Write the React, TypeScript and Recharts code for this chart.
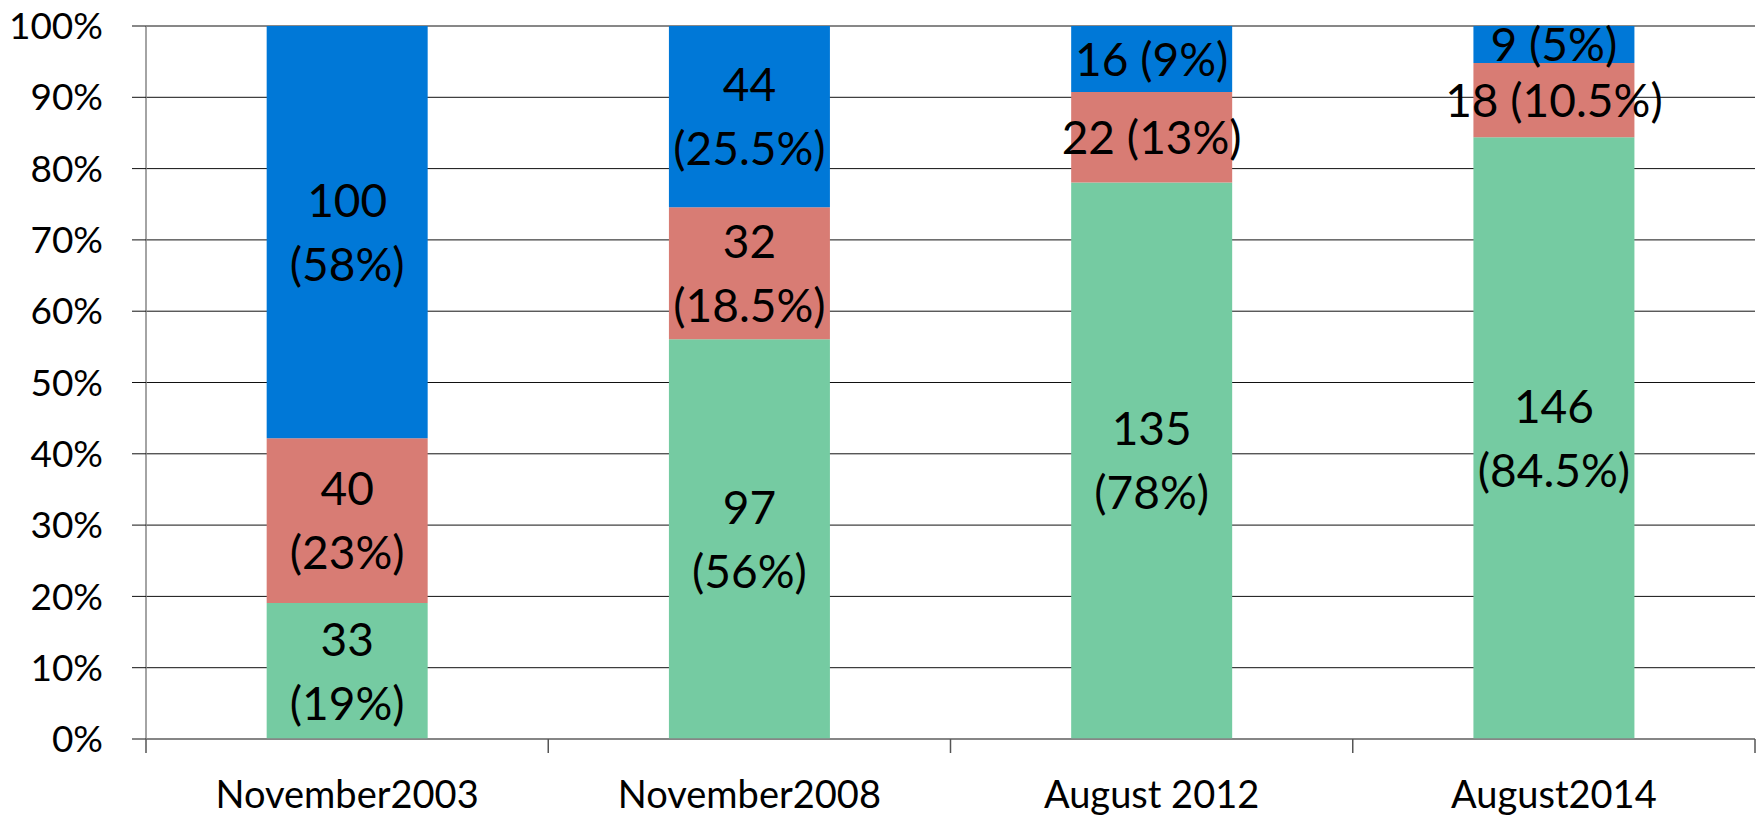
import { Bar, BarChart, CartesianGrid, LabelList, XAxis, YAxis } from 'recharts'

const PERIODS = ['November2003', 'November2008', 'August 2012', 'August2014']
const GREEN = [33, 97, 135, 146]
const RED = [40, 32, 22, 18]
const BLUE = [100, 44, 16, 9]
const GREEN_PCT = ['19%', '56%', '78%', '84.5%']
const RED_PCT = ['23%', '18.5%', '13%', '10.5%']
const BLUE_PCT = ['58%', '25.5%', '9%', '5%']
const Y_TICKS = [0, 0.1, 0.2, 0.3, 0.4, 0.5, 0.6, 0.7, 0.8, 0.9, 1]

const FONT = 'Lato, "Open Sans", sans-serif'

const data = PERIODS.map((period, i) => ({
  period,
  green: GREEN[i],
  red: RED[i],
  blue: BLUE[i],
}))

// Excel style: value + (share), split on two lines when the segment is tall enough
const makeLabel = (values: number[], pcts: string[]) => (props: any) => {
  const { x, y, width, height, index } = props
  const cx = Number(x) + Number(width) / 2
  const cy = Number(y) + Number(height) / 2
  const fs = 46
  const pct = pcts[index]
  if (parseFloat(pct) >= 15) {
    return (
      <g>
        <text x={cx} y={cy - 32} dy="0.36em" textAnchor="middle" fontSize={fs} fill="#000" fontFamily={FONT}>
          {values[index]}
        </text>
        <text x={cx} y={cy + 32} dy="0.36em" textAnchor="middle" fontSize={fs} fill="#000" fontFamily={FONT}>
          ({pct})
        </text>
      </g>
    )
  }
  return (
    <text x={cx} y={cy} dy="0.36em" textAnchor="middle" fontSize={fs} fill="#000" fontFamily={FONT}>
      {values[index]} ({pct})
    </text>
  )
}

// category label at band centre, tick marks on the band edges (Excel look)
function PeriodTick(props: any) {
  const { x, y, payload, index, width } = props
  const band = Number(width) / PERIODS.length
  const left = x - band / 2
  const right = x + band / 2
  return (
    <g>
      <line x1={left} x2={left} y1={y - 42} y2={y - 28} stroke="#555" strokeWidth={1.5} />
      {index === PERIODS.length - 1 && (
        <line x1={right} x2={right} y1={y - 42} y2={y - 28} stroke="#555" strokeWidth={1.5} />
      )}
      <text x={x} y={y} dy="0.71em" textAnchor="middle" fontSize={38} fill="#000" fontFamily={FONT}>
        {payload.value}
      </text>
    </g>
  )
}

export default function App() {
  return (
    <div style={{ position: 'absolute', left: 0, top: 0, fontFamily: FONT }}>
      <BarChart
        width={1756}
        height={815}
        data={data}
        stackOffset="expand"
        barCategoryGap="30%"
        margin={{ top: 26, right: 1, bottom: 0, left: 0 }}
      >
        <CartesianGrid vertical={false} stroke="#111" />
        <XAxis
          dataKey="period"
          interval={0}
          height={76}
          tickSize={0}
          tickMargin={42}
          tickLine={false}
          axisLine={{ stroke: '#868686', strokeWidth: 1.5 }}
          tick={(p: any) => <PeriodTick {...p} />}
        />
        <YAxis
          width={146}
          domain={[0, 1]}
          ticks={Y_TICKS}
          interval={0}
          tickSize={14}
          tickMargin={29}
          tickFormatter={(v: number) => `${Math.round(v * 100)}%`}
          tick={{ fontSize: 37, fill: '#000', fontFamily: FONT }}
          tickLine={{ stroke: '#111' }}
          axisLine={{ stroke: '#868686', strokeWidth: 1.5 }}
        />
        <Bar dataKey="green" stackId="a" fill="#75CBA2" isAnimationActive={false}>
          <LabelList dataKey="green" content={makeLabel(GREEN, GREEN_PCT)} />
        </Bar>
        <Bar dataKey="red" stackId="a" fill="#D87C74" isAnimationActive={false}>
          <LabelList dataKey="red" content={makeLabel(RED, RED_PCT)} />
        </Bar>
        <Bar dataKey="blue" stackId="a" fill="#0078D7" isAnimationActive={false}>
          <LabelList dataKey="blue" content={makeLabel(BLUE, BLUE_PCT)} />
        </Bar>
      </BarChart>
    </div>
  )
}
